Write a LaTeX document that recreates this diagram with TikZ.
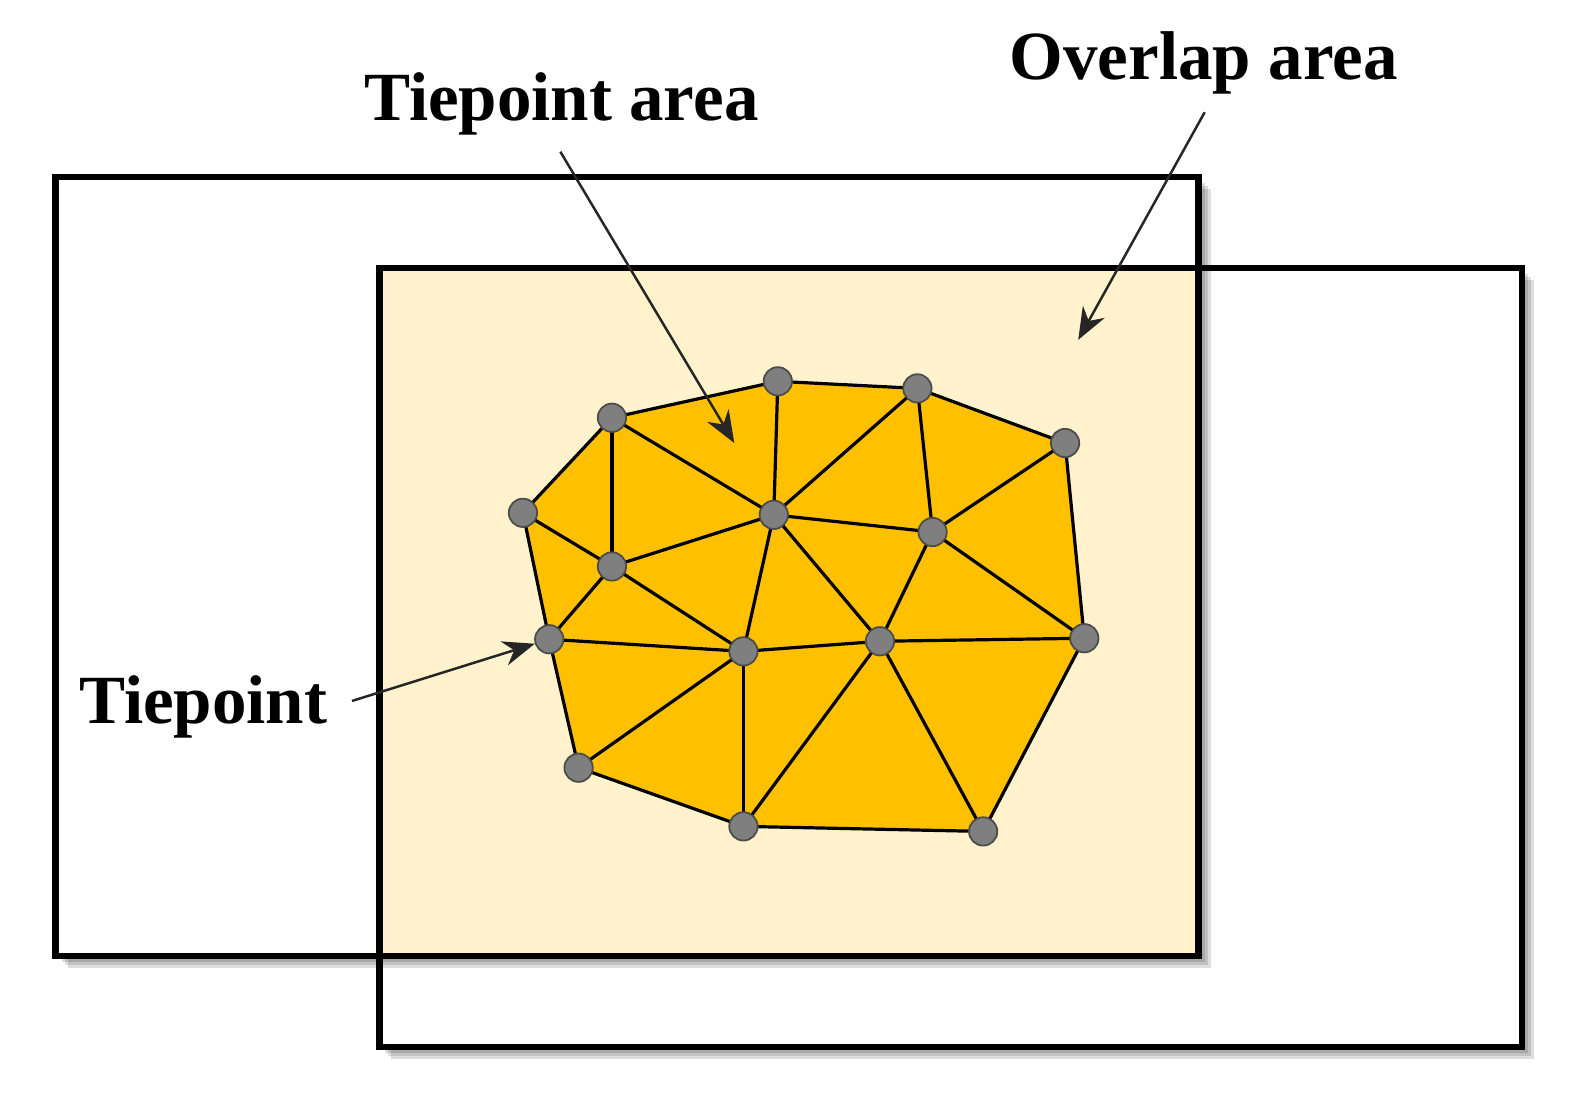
\documentclass[tikz,border=0pt]{standalone}
\usepackage{fontspec}
\setmainfont{Liberation Serif}
\usepackage{xcolor}
\usetikzlibrary{arrows.meta}
\definecolor{overlapbg}{HTML}{FFF2CC}
\definecolor{meshfill}{HTML}{FFC000}
\definecolor{tpgray}{HTML}{7F7F7F}
\tikzset{frame/.style={draw=black, line width=1.8pt},
lbl/.style={font=\fontsize{19.4}{23}\selectfont\bfseries, inner sep=0pt},
tiept/.style={circle, fill=tpgray, draw=black!70, line width=0.5pt, inner sep=0pt, minimum size=0.28cm},
meshline/.style={draw=black, line width=0.9pt, line join=round},
pointer/.style={-{Stealth[length=9pt,width=7pt]}, draw=black!85, line width=0.7pt}}
\begin{document}
\begin{tikzpicture}[x=0.01cm, y=-0.01cm, shade/.style={black, opacity=.13}]
\useasboundingbox (0,0) rectangle (1568,1088);
\coordinate (la) at (55,175);
\coordinate (lb) at (1185,945);
\coordinate (ra) at (375,265);
\coordinate (rb) at (1505,1035);
% the two images with their shadows
\foreach \s in {3,6,9,12}
	\fill[shade] ([shift={(\s,\s)}]ra) rectangle ([shift={(\s,\s)}]rb);
\fill[white] (ra) rectangle (rb);
\foreach \s in {3,6,9,12}
	\fill[shade] ([shift={(\s,\s)}]la) rectangle ([shift={(\s,\s)}]lb);
\fill[white] (la) rectangle (lb);
\fill[overlapbg] (ra) rectangle (lb);
\draw[frame] (ra) rectangle (rb);
\draw[frame] (la) rectangle (lb);
% tiepoints
\foreach \n/\x/\y in {A/605/413, B/769/377, C/907/384, D/1053/438, E/517/507,
		F/765/509, G/922/526, H/605/560, I/543/632, J/735/644, K/870/634,
		L/1072/631, M/572/759, N/735/817, O/972/822}
	\coordinate (\n) at (\x,\y);
\filldraw[meshline, fill=meshfill] (E)--(A)--(B)--(C)--(D)--(L)--(O)--(N)--(M)--(I)--cycle;
\foreach \a/\b in {A/H, A/F, B/F, C/F, C/G, D/G, F/G, E/H, H/F, H/I, H/J,
		I/J, F/J, F/K, G/K, G/L, K/L, J/K, J/M, J/N, K/N, K/O}
	\draw[meshline] (\a)--(\b);
\foreach \n in {A,...,O}
	\node[tiept] (t\n) at (\n) {};
% labels
\node[lbl, anchor=base] (arealbl) at (555,119) {Tiepoint area};
\node[lbl, anchor=base] (overlaplbl) at (1190,79) {Overlap area};
\node[lbl, anchor=base] (tplbl) at (201,715) {Tiepoint};
\coordinate (areafrom) at (554,150);
\coordinate (areato) at (726,438);
\coordinate (overlapfrom) at (1191,111);
\coordinate (overlapto) at (1066,336);
\coordinate (tpfrom) at (348,693);
\draw[pointer] (areafrom) -- (areato);
\draw[pointer] (overlapfrom) -- (overlapto);
\draw[pointer] (tpfrom) -- (tI);
\end{tikzpicture}
\end{document}
